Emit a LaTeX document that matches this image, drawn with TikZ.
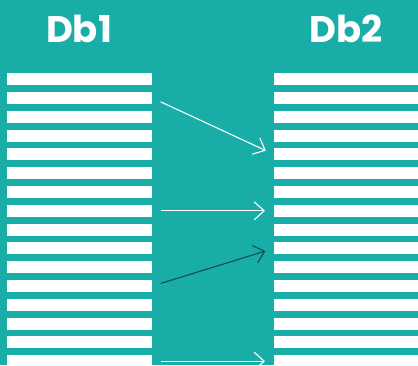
\documentclass[tikz,border=0pt]{standalone}
\usepackage{fontspec}
\setmainfont{Poppins}
\usetikzlibrary{arrows.meta}
\definecolor{tealbg}{HTML}{19ADA8}
\definecolor{darkteal}{HTML}{0F4F4C}

\begin{document}
\begin{tikzpicture}[x=1pt, y=-1pt,
  row/.style={fill=white, inner sep=0pt, minimum height=12pt, anchor=north west},
  title/.style={white, font=\bfseries\fontsize{37}{37}\selectfont},
  link/.style={-{Straight Barb[length=10pt, width=18pt]}, shorten <=9pt, shorten >=9pt, line width=1.1pt}]
  \fill[tealbg] (0, 0) rectangle (418, 365);
  \useasboundingbox (0, 0) rectangle (418, 365);
  \clip (0, 0) rectangle (418, 365);
  \node[title] (db1) at (79, 28.5) {Db1};
  \node[title] (db2) at (346.5, 28.5) {Db2};
  \foreach \i in {1,...,16} {
    \node[row, minimum width=145pt] (l\i) at (7, {73 + (\i-1)*18.8}) {};
    \node[row, minimum width=150pt] (r\i) at (274, {73 + (\i-1)*18.8}) {};
  }
  \draw[link, white] (l2.east) -- (r5.west);
  \draw[link, white] (l8.east) -- (r8.west);
  \draw[link, darkteal] (l12.east) -- (r10.west);
  \draw[link, white] (l16.east) -- (r16.west);
\end{tikzpicture}
\end{document}
